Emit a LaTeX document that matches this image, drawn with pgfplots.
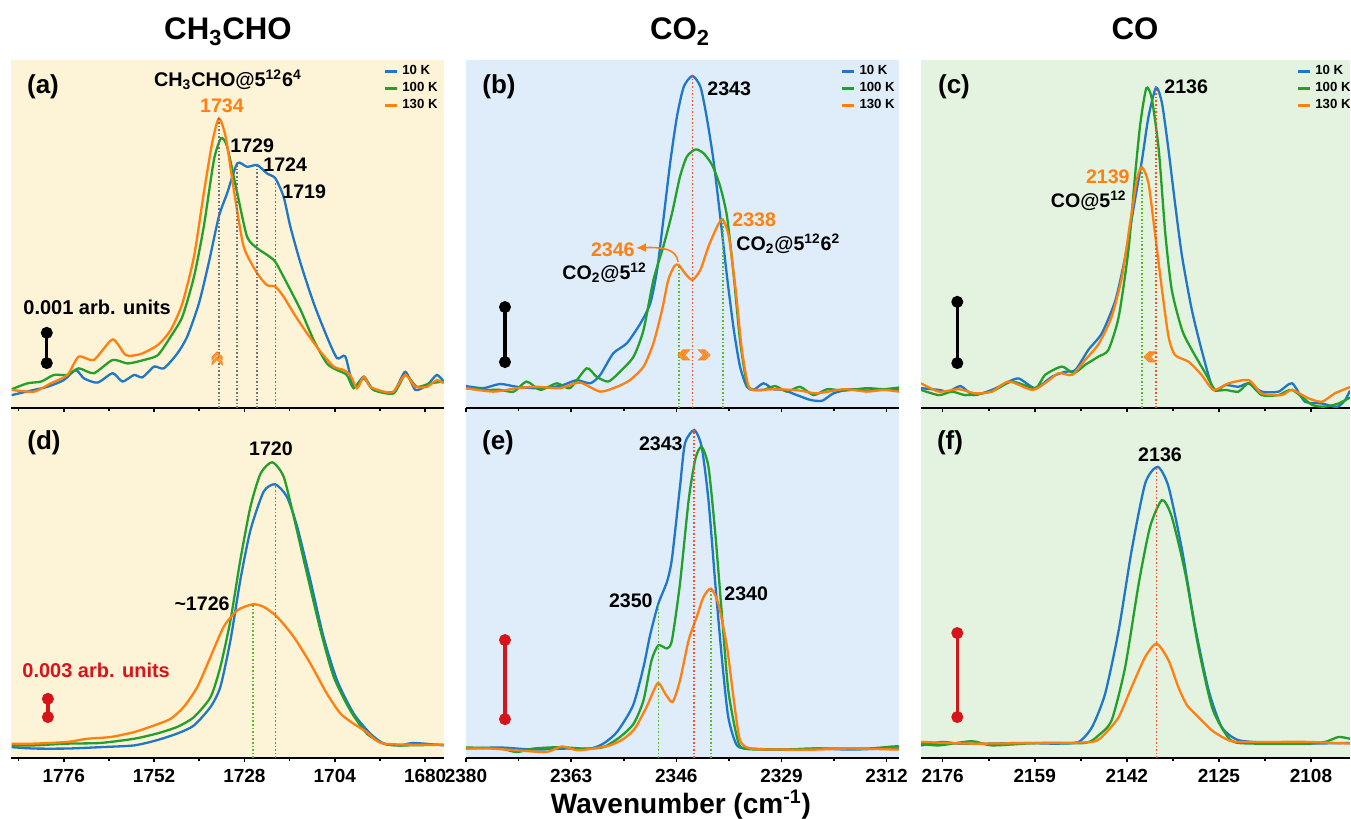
\documentclass[border=0pt]{standalone}
\usepackage{fontspec}
\setmainfont{Liberation Sans}
\usepackage{pgfplots}
\pgfplotsset{compat=1.18}
\usetikzlibrary{arrows.meta}

\definecolor{cblue}{HTML}{1F77C9}
\definecolor{cgreen}{HTML}{23A02A}
\definecolor{corange}{HTML}{FF7F0F}
\definecolor{bgyellow}{HTML}{FDF3D6}
\definecolor{bgblue}{HTML}{DEEDF9}
\definecolor{bggreen}{HTML}{E3F3E0}
\definecolor{dred}{HTML}{D7141A}
\definecolor{dotred}{HTML}{F0522A}
\definecolor{dotgreen}{HTML}{5CB82E}
\definecolor{chevfill}{HTML}{FDB26B}

\pgfplotsset{
  panel/.style={scale only axis, axis x line=bottom, axis y line=none, x dir=reverse,
    ymin=0, ymax=100,
    x axis line style={-, line width=1pt, black},
    tick align=outside, major tick length=2.2pt, minor tick length=1.3pt,
    tick style={black, line width=0.8pt},
    scaled x ticks=false,
    xticklabel style={font=\fontsize{9.5}{10}\selectfont\bfseries},
    /pgf/number format/assume math mode=true,
    /pgf/number format/1000 sep={},
  },
  colA/.style={panel, xmin=1675, xmax=1790, xtick={1680,1704,1728,1752,1776}, minor xtick={1692,1716,1740,1764,1788}, axis background/.style={fill=bgyellow}},
  colB/.style={panel, xmin=2310, xmax=2380, xtick={2312,2329,2346,2363,2380}, minor xtick={2320.5,2337.5,2354.5,2371.5}, axis background/.style={fill=bgblue}},
  colC/.style={panel, xmin=2100.8, xmax=2180, xtick={2108,2125,2142,2159,2176}, minor xtick={2116.5,2133.5,2150.5,2167.5}, axis background/.style={fill=bggreen}},
  toppanel/.style={height=174pt, xticklabels={},
    legend entries={10 K,100 K,130 K},
    legend style={at={(axis description cs:#1,0.998)}, anchor=north west, draw=none, fill=none,
      font=\fontsize{6.6}{7}\selectfont\bfseries, row sep=-1.6pt, inner sep=0pt, legend cell align=left}},
  botpanel/.style={height=175pt},
  sb/.style={color=cblue, line width=1.15pt, smooth, tension=0.4},
  sg/.style={color=cgreen, line width=1.15pt, smooth, tension=0.4},
  so/.style={color=corange, line width=1.15pt, smooth, tension=0.4},
  dgray/.style={black!55, densely dotted, line width=0.8pt, forget plot},
  dgreen/.style={dotgreen, densely dotted, line width=0.8pt, forget plot},
  dredl/.style={dotred, densely dotted, line width=0.8pt, forget plot},
  barblack/.style={black, line width=1.7pt, mark=*, mark size=2.1pt, forget plot},
  barred/.style={dred, line width=1.7pt, mark=*, mark size=2.1pt, forget plot},
  legend image code/.code={\draw[#1, line width=1.5pt] (0pt,0pt) -- (6pt,0pt);},
}
\tikzset{
  chevL/.pic={\filldraw[fill=chevfill, draw=corange, line width=0.5pt] (-3,0)--(2,-5)--(4.5,-5)--(-0.5,0)--(4.5,5)--(2,5)--cycle;},
  chevR/.pic={\filldraw[fill=chevfill, draw=corange, line width=0.5pt] (3,0)--(-2,-5)--(-4.5,-5)--(0.5,0)--(-4.5,5)--(-2,5)--cycle;},
  chevU/.pic={\filldraw[fill=chevfill, draw=corange, line width=0.5pt] (0,-3)--(-5,2)--(-5,4.5)--(0,-0.5)--(5,4.5)--(5,2)--cycle;},
}

\begin{document}
\bfseries
\begin{tikzpicture}
\path[use as bounding box] (0pt,0pt) rectangle (675.5pt,409.5pt);

% ---------------- bottom row ----------------
\begin{axis}[colA, botpanel, at={(5.5pt,30.5pt)}, anchor=south west, width=216.5pt]
\addplot[sb] coordinates {(1789.8,3.1) (1783.9,2.7) (1775,2.7) (1766.2,3.1) (1757.3,3.6) (1751.2,5.1) (1745.8,7) (1741.4,9.3) (1737,14.6) (1734.4,20.3) (1731.7,33.7) (1729.1,50.8) (1726.4,65.1) (1722.9,76.1) (1719.8,78.2) (1716.7,74.6) (1714,66.1) (1710.5,50.8) (1707,34.6) (1703.4,22.2) (1699,12.7) (1694.6,7) (1691,4.1) (1686.6,3.6) (1683.1,4.3) (1675.1,3.6)};
\addplot[sg] coordinates {(1789.8,3.6) (1783.9,3.6) (1775,4.1) (1766.2,4.3) (1757.3,5.5) (1751.2,7) (1745.8,8.9) (1741.4,11.7) (1737,17.4) (1734.4,26) (1731.7,39.4) (1729.1,56.5) (1726.4,71.8) (1723.7,81.3) (1720.6,84.5) (1717.6,80.4) (1714.9,68.9) (1711.4,52.7) (1707.8,36.5) (1704.3,23.2) (1699.9,13.6) (1695.5,7) (1691,4.1) (1686.6,3.6) (1675.1,3.8)};
\addplot[so] coordinates {(1789.8,4.1) (1783.9,4.1) (1775,4.6) (1769.7,5.5) (1763.5,6) (1757.3,7.4) (1752,9.3) (1747.6,11.2) (1744.1,14.6) (1740.5,20.3) (1737,28.9) (1733.5,37.5) (1729.9,42.2) (1725.8,43.9) (1722.9,43.2) (1719.3,40.3) (1714.9,34.6) (1710.5,27) (1706.1,18.4) (1702.5,12.7) (1699,9.8) (1695.5,7.4) (1691,4.1) (1675.1,3.8)};
\addplot[dgreen] coordinates {(1725.8,0) (1725.8,43.9)};
\addplot[dredl] coordinates {(1719.8,0) (1719.8,78.2)};
\addplot[barred] coordinates {(1780.2,11.7) (1780.2,16.9)};
\end{axis}

\begin{axis}[colB, botpanel, at={(233pt,30.5pt)}, anchor=south west, width=216.5pt]
\addplot[sb] coordinates {(2380,2.7) (2374.5,3) (2369.1,2.4) (2363.7,2.7) (2359.9,2.7) (2357.8,4.1) (2355.6,7.4) (2353,15) (2351.3,26) (2350.2,35.4) (2348.9,44.1) (2347.5,50.4) (2346.7,57) (2345.4,77.6) (2344.6,89.9) (2343.1,93.7) (2341.9,88.9) (2340.8,73.7) (2339.7,49.9) (2338.6,27.9) (2337.6,11.7) (2336.2,3.6) (2334,2.7) (2328.7,2.4) (2323.3,2.7) (2317.9,2.4) (2312.5,2.7) (2310,2.7)};
\addplot[sg] coordinates {(2380,3) (2374.5,2.7) (2371.8,1.7) (2369.1,2.7) (2364.8,3.1) (2361,2.7) (2357.8,3.1) (2355.1,6) (2352.9,9.8) (2351.3,16.5) (2350,27.9) (2348.9,32.2) (2347.5,31.3) (2346.7,33.7) (2345.4,49.9) (2344,73.7) (2342.9,85.6) (2341.9,88.9) (2340.8,83.2) (2339.7,64.2) (2338.6,40.3) (2337.6,19.4) (2336.2,6) (2335.1,2.7) (2328.7,2.4) (2323.3,2.7) (2315.2,2.7) (2310.9,3.3) (2310,3.3)};
\addplot[so] coordinates {(2380,2.7) (2376.1,2.7) (2371.8,2.2) (2367,1.7) (2364.5,3.3) (2362,2.2) (2359.4,2.7) (2356.7,3.6) (2354.5,5.5) (2352.7,8.4) (2350.8,14.6) (2349,21.4) (2347.8,18.4) (2346.6,16) (2345.4,22.2) (2344,33.7) (2342.7,40.3) (2341.6,46) (2340.4,48.4) (2339.2,44.1) (2337.8,31.7) (2336.7,16.5) (2335.7,5.1) (2334,2.7) (2328.7,2.4) (2323.3,2.4) (2317.9,2.7) (2310,2.4)};
\addplot[dgreen] coordinates {(2348.9,0) (2348.9,44.1)};
\addplot[dredl] coordinates {(2343.1,0) (2343.1,93.7)};
\addplot[dgreen] coordinates {(2340.4,0) (2340.4,48.4)};
\addplot[barred] coordinates {(2373.7,11.1) (2373.7,33.7)};
\end{axis}

\begin{axis}[colC, botpanel, at={(460.5pt,30.5pt)}, anchor=south west, width=214.5pt]
\addplot[sb] coordinates {(2180,3.6) (2176.1,4.6) (2173,4.1) (2167.5,4.1) (2161.4,4.3) (2155.2,4.1) (2150.9,4.6) (2148.4,8.9) (2146,18.4) (2143.5,36.5) (2141.1,59.4) (2138.6,78.5) (2136.3,83.2) (2134.3,77.5) (2131.8,59.4) (2129.4,37.5) (2126.9,19.4) (2124.5,8.9) (2121.4,5.1) (2115.2,4.3) (2109.1,4.1) (2100.8,4.3)};
\addplot[sg] coordinates {(2180,4.1) (2176.7,3.6) (2170.6,4.8) (2166.9,3.6) (2158.3,4.3) (2149.7,4.3) (2147.2,6.5) (2144.8,10.8) (2142.3,26) (2139.8,49.9) (2137.7,66.1) (2135.5,73.7) (2133.7,68.9) (2131.2,52.7) (2128.8,31.7) (2126.3,14.6) (2123.8,7) (2121.4,4.3) (2109.1,4.1) (2105.4,4.6) (2102.9,6) (2100.8,5.5)};
\addplot[so] coordinates {(2180,4.6) (2170.6,4.1) (2158.3,4.3) (2148.4,4.6) (2146,7) (2143.5,11.7) (2141.1,20.3) (2138.6,28.9) (2136.5,32.7) (2134.3,27.9) (2132.5,20.3) (2130.9,15.1) (2128.8,11.7) (2126.3,7.9) (2123.8,5.5) (2121.4,4.6) (2109.1,4.6) (2100.8,4.1)};
\addplot[dredl] coordinates {(2136.5,0) (2136.5,83.2)};
\addplot[barred] coordinates {(2173.3,11.7) (2173.3,35.7)};
\end{axis}

% ---------------- top row ----------------
\begin{axis}[colA, toppanel=0.859, at={(5.5pt,205.5pt)}, anchor=south west, width=216.5pt]
\addplot[sb] coordinates {(1789.8,3.7) (1783.9,5.2) (1780.3,6.1) (1776,8) (1772.8,10.9) (1770.6,8.5) (1767,7.3) (1763,10) (1760.4,7.6) (1757.3,9.5) (1755.1,8.8) (1752,11.9) (1749.4,11.4) (1745.8,15.7) (1743.2,20.5) (1740.1,30) (1737.5,41.6) (1734.8,55) (1732.6,61.7) (1729.9,70.3) (1727.3,69.3) (1724.6,69.8) (1722,67.4) (1719.8,66) (1717.6,60.7) (1715.8,52.1) (1713.1,41.6) (1709.6,30.1) (1706.1,20.5) (1703.4,14.3) (1701.2,14.8) (1699,6.1) (1696.3,9) (1693.7,5.2) (1688.4,4.7) (1685.3,10.4) (1682.6,5.2) (1679.5,6.6) (1676.9,9.5) (1675.1,7.6)};
\addplot[sg] coordinates {(1789.8,5.4) (1785.6,7.1) (1782,7.6) (1778.6,9.5) (1775,9.5) (1772,11.4) (1768,10) (1763,13.8) (1759,12.8) (1754.7,13.8) (1751,15.2) (1747.6,20.5) (1744.5,26.2) (1741.4,37.7) (1738.8,52.1) (1736.1,71.3) (1734.2,77.5) (1732.6,75.1) (1729.9,61.7) (1727.3,49.2) (1724.6,45.9) (1722,44) (1719.8,42) (1716.7,35.8) (1713.1,28.2) (1709.6,19.5) (1706.1,12.8) (1703.4,10.9) (1700.8,9.5) (1699,5.7) (1696.3,8.5) (1693.7,5.2) (1688.4,4.2) (1685.3,9.5) (1682.2,6.1) (1678.6,7.1) (1675.1,7.6)};
\addplot[so] coordinates {(1789.8,5.2) (1783.9,4.7) (1779.4,7.1) (1775,9.5) (1772,14.8) (1768,13.8) (1763,19.7) (1759.5,15.2) (1755.6,15.5) (1751,18.1) (1747.6,22.4) (1744.5,30) (1741.4,43.5) (1738.8,61.7) (1736.6,76) (1734.8,83.2) (1733,78) (1730.8,62.6) (1728.2,46.4) (1724.6,38.7) (1722,35.3) (1719.8,34.9) (1717.6,32) (1714.9,27.2) (1711.4,21.5) (1707.8,16.2) (1704.3,11.9) (1701.6,10.9) (1699.9,9.5) (1698.1,5.7) (1696.3,9) (1694.6,6.1) (1691,4.7) (1688.4,4.7) (1685.3,9.5) (1682.6,6.1) (1679.5,6.1) (1676.9,8) (1675.1,7.1)};
\addplot[dgray] coordinates {(1734.8,0) (1734.8,83.2)};
\addplot[dgray] coordinates {(1729.9,0) (1729.9,70.3)};
\addplot[dgray] coordinates {(1724.6,0) (1724.6,69.8)};
\addplot[dgray] coordinates {(1719.8,0) (1719.8,66)};
\addplot[barblack] coordinates {(1780.5,12.9) (1780.5,21.6)};
\end{axis}

\begin{axis}[colB, toppanel=0.864, at={(233pt,205.5pt)}, anchor=south west, width=216.5pt]
\addplot[sb] coordinates {(2380,6.3) (2377.2,5.7) (2374.5,6.9) (2371.8,6.1) (2369.1,5.7) (2366.4,5.9) (2364.3,6.6) (2362.1,8) (2359.9,7.1) (2358.3,9.5) (2356.2,15.7) (2354,18.6) (2351.8,24.3) (2350.2,30.1) (2349.1,39.7) (2348.1,54) (2347,70.3) (2345.9,83.7) (2344.8,92.3) (2343.4,95.4) (2342.1,92.3) (2341.1,83.7) (2340,71.3) (2338.9,55) (2337.8,37.7) (2336.7,22.4) (2335.7,11.9) (2334.6,6.1) (2333.5,5.2) (2331.9,7.1) (2330.3,5.4) (2328.7,5.2) (2326.5,3.7) (2324.3,2.3) (2322.4,2.1) (2320.6,4.2) (2317.9,5.4) (2315.2,5) (2312.5,5.4) (2310,5.2)};
\addplot[sg] coordinates {(2380,5.7) (2377.2,5.2) (2374.5,5.2) (2372.3,4.7) (2370.2,7.6) (2368,5.2) (2365.3,7.1) (2363.2,5.7) (2360.5,11.4) (2358.9,9) (2357,7.6) (2355.1,10.4) (2352.9,14.8) (2351.3,22.4) (2349.7,36.8) (2348.1,46.4) (2346.7,55.9) (2345.4,66.5) (2344.3,72.2) (2342.9,74.3) (2341.6,73.2) (2340.2,69.8) (2338.9,63.6) (2337.8,55) (2336.7,37.7) (2335.7,19.5) (2334.6,7.1) (2333.5,5.2) (2331.9,5.2) (2330,6.3) (2328.1,4.7) (2326,6.1) (2323.8,3.7) (2321.6,5.4) (2318.9,5) (2315.2,5.7) (2312.5,5.4) (2310,5.9)};
\addplot[so] coordinates {(2380,5.7) (2375.6,4.7) (2371.8,5.7) (2368.6,6.1) (2364.8,5.7) (2361.6,7.3) (2358.3,4.7) (2355.6,6.1) (2353.5,8) (2351.3,11.9) (2349.7,18.6) (2348.3,28.2) (2347.3,36.8) (2346.3,40.8) (2345.6,41.1) (2344.6,38.7) (2343.4,36.8) (2342.1,39.7) (2340.8,46.4) (2339.4,52.1) (2338.5,54.2) (2337.5,49.2) (2336.4,33.9) (2335.4,16.7) (2334.3,6.1) (2333,5.2) (2329.7,5.4) (2326,5) (2323.3,4.2) (2318.9,5.4) (2315.2,4.7) (2312.5,5.2) (2310,4.7)};
\addplot[dgreen] coordinates {(2345.6,0) (2345.6,41.1)};
\addplot[dredl] coordinates {(2343.4,0) (2343.4,95.4)};
\addplot[dgreen] coordinates {(2338.5,0) (2338.5,54.2)};
\addplot[barblack] coordinates {(2373.7,13.2) (2373.7,29)};
\end{axis}

\begin{axis}[colC, toppanel=0.874, at={(460.5pt,205.5pt)}, anchor=south west, width=214.5pt]
\addplot[sb] coordinates {(2180,5.7) (2176.7,5.2) (2174.9,4.7) (2172.7,6.3) (2170.3,3.7) (2166.9,5.2) (2164.4,7.1) (2162,8.5) (2158.9,5.7) (2155.8,9) (2153.4,10.4) (2151.5,10.9) (2149.1,16.7) (2146.6,21.5) (2144.1,31) (2142.3,43.5) (2140.5,59.8) (2139.2,71.3) (2138,83.7) (2136.6,92.1) (2135.5,87.5) (2134.3,74.1) (2133.1,58.8) (2131.8,43.5) (2130,28.2) (2128.2,16.7) (2126,5.2) (2123.8,6.6) (2121.4,6.1) (2119.5,7.1) (2117.1,4.7) (2114,4.7) (2111.5,7.1) (2109.1,1.8) (2106,1.3) (2103.2,0.3) (2101.7,2.3) (2100.8,5)};
\addplot[sg] coordinates {(2180,5.2) (2176.7,3.7) (2174.3,4.7) (2171.8,3.7) (2168.7,4.2) (2166.3,5.2) (2163.2,7.6) (2158.9,5.7) (2157.1,9.5) (2154,11.9) (2151.8,10) (2149.7,12.4) (2147.2,14.8) (2145.4,16.7) (2143.5,26.2) (2141.7,45.4) (2140.5,66.5) (2139.5,81.8) (2138.4,91.9) (2137.4,89) (2136.1,74.1) (2134.9,50.2) (2133.7,33.9) (2131.8,22.4) (2130,16.7) (2127.5,10) (2125.7,5.2) (2123.8,5.2) (2121.4,4.7) (2119.5,7.1) (2117.1,3.7) (2114,3.7) (2111.5,5.2) (2107.8,0.9) (2105.4,0.4) (2102.9,1.3) (2100.8,3)};
\addplot[so] coordinates {(2180,7.1) (2176.7,4.7) (2173,5.4) (2170,4.2) (2166.9,4.7) (2163.8,7.6) (2159.5,5.2) (2157.1,7.1) (2154.6,10) (2152.1,9.5) (2149.7,13.8) (2147.2,18.4) (2144.8,26.2) (2142.9,37.7) (2141.4,53.1) (2140.1,66) (2139.2,69.2) (2138,64.6) (2136.8,50.2) (2135.5,33.9) (2134.3,20.5) (2133.1,15.2) (2130.6,13.3) (2128.2,9.5) (2126,5.2) (2123.2,7.1) (2119.5,8) (2117.1,4.2) (2113.4,3.7) (2111.5,5.2) (2108.5,2.8) (2106,1.8) (2103.6,4.2) (2100.8,6)};
\addplot[dgreen] coordinates {(2139.2,0) (2139.2,69.2)};
\addplot[dredl] coordinates {(2136.6,0) (2136.6,92.1)};
\addplot[barblack] coordinates {(2173.3,12.9) (2173.3,30.5)};
\end{axis}

% ---------------- annotations (pixel coordinates, y downwards) ----------------
\begin{scope}[yshift=409.5pt, x=0.5pt, y=-0.5pt]
\node[anchor=base, font=\fontsize{15.6}{17}\selectfont\bfseries] at (228,40) {CH\textsubscript{3}CHO};
\node[anchor=base, font=\fontsize{15.6}{17}\selectfont\bfseries] at (680,40) {CO\textsubscript{2}};
\node[anchor=base, font=\fontsize{15.6}{17}\selectfont\bfseries] at (1135,40) {CO};

\foreach \lab/\x/\y in {(a)/43/87, (b)/499/87, (c)/954/87, (d)/44/443, (e)/498/443, (f)/950/443}
  \node[font=\fontsize{13}{14}\selectfont\bfseries] at (\x,\y) {\lab};

% (a)
\node[anchor=base, font=\fontsize{9.9}{10}\selectfont\bfseries] at (228,87) {CH\textsubscript{3}CHO@5\textsuperscript{12}6\textsuperscript{4}};
\node[text=corange, font=\fontsize{9.8}{10}\selectfont\bfseries] at (222,106) {1734};
\node[anchor=west, inner sep=0pt, font=\fontsize{9.8}{10}\selectfont\bfseries] at (230,146) {1729};
\node[anchor=west, inner sep=0pt, font=\fontsize{9.8}{10}\selectfont\bfseries] at (263,165) {1724};
\node[anchor=west, inner sep=0pt, font=\fontsize{9.8}{10}\selectfont\bfseries] at (282,192) {1719};
\node[anchor=west, inner sep=0pt, font=\fontsize{10}{10}\selectfont\bfseries] at (23,307.5) {0.001 arb. units};
\pic at (217,355) {chevU};
\pic at (217,360) {chevU};

% (b)
\node[anchor=west, inner sep=0pt, font=\fontsize{9.8}{10}\selectfont\bfseries] at (707,88.5) {2343};
\node[anchor=west, inner sep=0pt, text=corange, font=\fontsize{9.8}{10}\selectfont\bfseries] at (732,220) {2338};
\node[anchor=base west, inner sep=0pt, font=\fontsize{9.8}{10}\selectfont\bfseries] at (736,251) {CO\textsubscript{2}@5\textsuperscript{12}6\textsuperscript{2}};
\node[anchor=east, inner sep=0pt, text=corange, font=\fontsize{9.8}{10}\selectfont\bfseries] at (635,250) {2346};
\node[anchor=base west, inner sep=0pt, font=\fontsize{9.8}{10}\selectfont\bfseries] at (562,280) {CO\textsubscript{2}@5\textsuperscript{12}};
\draw[corange, line width=0.8pt, -{Latex[length=5pt, width=4.5pt]}] (678,262) .. controls (677,249) and (662,247) .. (636,248);
\pic at (681,355) {chevL};
\pic at (685,355) {chevL};
\pic at (707,355) {chevR};
\pic at (703,355) {chevR};

% (c)
\node[anchor=west, inner sep=0pt, font=\fontsize{9.8}{10}\selectfont\bfseries] at (1164,86.5) {2136};
\node[anchor=east, inner sep=0pt, text=corange, font=\fontsize{9.8}{10}\selectfont\bfseries] at (1130,177) {2139};
\node[anchor=base east, inner sep=0pt, font=\fontsize{9.8}{10}\selectfont\bfseries] at (1127,208) {CO@5\textsuperscript{12}};
\pic at (1147,357) {chevL};
\pic at (1151,357) {chevL};

% (d)
\node[font=\fontsize{9.8}{10}\selectfont\bfseries] at (271,449) {1720};
\node[anchor=east, inner sep=0pt, font=\fontsize{9.8}{10}\selectfont\bfseries] at (230,603.5) {\textasciitilde1726};
\node[anchor=west, inner sep=0pt, text=dred, font=\fontsize{10}{10}\selectfont\bfseries] at (22,670.5) {0.003 arb. units};

% (e)
\node[anchor=east, inner sep=0pt, font=\fontsize{9.8}{10}\selectfont\bfseries] at (683,443.5) {2343};
\node[anchor=east, inner sep=0pt, font=\fontsize{9.8}{10}\selectfont\bfseries] at (653,600.5) {2350};
\node[anchor=west, inner sep=0pt, font=\fontsize{9.8}{10}\selectfont\bfseries] at (724,593.5) {2340};

% (f)
\node[font=\fontsize{9.8}{10}\selectfont\bfseries] at (1160,454.5) {2136};

% x label
\node[anchor=base, font=\fontsize{14}{15}\selectfont\bfseries] at (681,814) {Wavenumber (cm\textsuperscript{-1})};
\end{scope}
\end{tikzpicture}
\end{document}
